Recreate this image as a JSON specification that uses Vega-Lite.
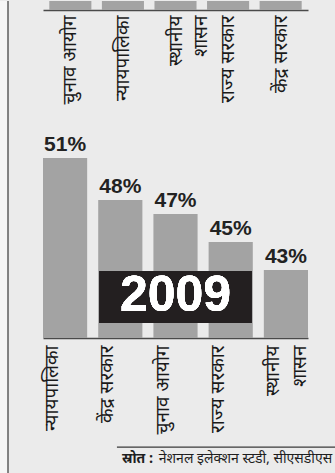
{
  "$schema": "https://vega.github.io/schema/vega-lite/v6.json",
  "padding": 0,
  "background": "#ebebeb",
  "config": {"view": {"stroke": null}},
  "spacing": 33,
  "hconcat": [
    {
      "width": 8,
      "height": 473,
      "view": {"fill": "#f6f6f6", "stroke": null},
      "data": {"values": [{}]},
      "mark": {"type": "rule", "color": "#5e5e5e", "strokeWidth": 1.5},
      "encoding": {
        "x": {"datum": 1, "type": "quantitative", "scale": {"domain": [0, 1]}, "axis": null}
      }
    },
    {
      "spacing": 0,
      "vconcat": [
        {
          "width": 265,
          "height": 9,
          "data": {"values": [
            {"संस्था": "चुनाव आयोग", "प्रतिशत": 0.55},
            {"संस्था": "न्यायपालिका", "प्रतिशत": 0.53},
            {"संस्था": "स्थानीय|शासन", "प्रतिशत": 0.51},
            {"संस्था": "राज्य सरकार", "प्रतिशत": 0.49},
            {"संस्था": "केंद्र सरकार", "प्रतिशत": 0.47}
          ]},
          "mark": {"type": "bar", "color": "#a3a3a3", "clip": true},
          "encoding": {
            "x": {
              "field": "संस्था", "type": "nominal", "sort": null,
              "scale": {"paddingInner": 0.2, "paddingOuter": 0.12},
              "axis": {
                "title": null, "ticks": false, "domainColor": "#4a4a4a", "domainWidth": 1.5,
                "labelAngle": 270, "labelFont": "Noto Sans Devanagari, Noto Sans, sans-serif",
                "labelFontSize": 19, "labelColor": "#1a1a1a", "labelPadding": 5,
                "labelLineHeight": 25, "labelExpr": "split(datum.label, '|')",
                "minExtent": 104, "maxExtent": 104
              }
            },
            "y": {"field": "प्रतिशत", "type": "quantitative", "scale": {"domain": [0.3815, 0.3879], "zero": false, "nice": false}, "axis": null}
          }
        },
        {
          "width": 265,
          "height": 224,
          "data": {"values": [
            {"संस्था": "न्यायपालिका", "प्रतिशत": 0.51},
            {"संस्था": "केंद्र सरकार", "प्रतिशत": 0.48},
            {"संस्था": "चुनाव आयोग", "प्रतिशत": 0.47},
            {"संस्था": "राज्य सरकार", "प्रतिशत": 0.45},
            {"संस्था": "स्थानीय|शासन", "प्रतिशत": 0.43}
          ]},
          "encoding": {
            "x": {
              "field": "संस्था", "type": "nominal", "sort": null,
              "scale": {"paddingInner": 0.2, "paddingOuter": 0},
              "axis": {
                "title": null, "ticks": false, "domainColor": "#4a4a4a", "domainWidth": 1.5,
                "labelAngle": 270, "labelBaseline": "top", "labelAlign": "right", "labelOffset": -22,
                "labelFont": "Noto Sans Devanagari, Noto Sans, sans-serif",
                "labelFontSize": 19, "labelColor": "#1a1a1a", "labelPadding": 7,
                "labelLineHeight": 27, "labelExpr": "split(datum.label, '|')",
                "minExtent": 108, "maxExtent": 108
              }
            }
          },
          "layer": [
            {
              "mark": {"type": "bar", "color": "#a3a3a3", "clip": true},
              "encoding": {
                "y": {"field": "प्रतिशत", "type": "quantitative", "scale": {"domain": [0.3815, 0.5415], "zero": false, "nice": false}, "axis": null},
                "y2": {"datum": 0.3815}
              }
            },
            {
              "mark": {"type": "text", "baseline": "alphabetic", "dy": -7, "font": "Liberation Sans Narrow, Liberation Sans, Arial, sans-serif", "fontWeight": "bold", "fontSize": 21, "color": "#222222"},
              "encoding": {
                "y": {"field": "प्रतिशत", "type": "quantitative"},
                "text": {"field": "प्रतिशत", "type": "quantitative", "format": ".0%"}
              }
            },
            {
              "mark": {"type": "bar", "color": "#231f20", "width": 152},
              "encoding": {
                "x": {"datum": "चुनाव आयोग", "type": "nominal"},
                "y": {"datum": 0.4294, "type": "quantitative"},
                "y2": {"datum": 0.3922}
              }
            },
            {
              "mark": {"type": "text", "text": "2009", "font": "Liberation Sans, Arial, sans-serif", "fontWeight": "bold", "fontSize": 50, "color": "#ffffff", "baseline": "middle"},
              "encoding": {
                "x": {"datum": "चुनाव आयोग", "type": "nominal"},
                "y": {"datum": 0.4115, "type": "quantitative"}
              }
            }
          ]
        },
        {
          "width": 265,
          "height": 28,
          "data": {"values": [{}]},
          "layer": [
            {
              "mark": {"type": "rule", "color": "#3a3a3a", "strokeWidth": 1.3},
              "encoding": {
                "x": {"datum": 0.279, "type": "quantitative", "scale": {"domain": [0, 1]}, "axis": null},
                "x2": {"datum": 1.12},
                "y": {"datum": 0.96, "type": "quantitative", "scale": {"domain": [0, 1]}, "axis": null}
              }
            },
            {
              "mark": {"type": "text", "text": "स्रोत :", "align": "left", "baseline": "middle", "font": "Noto Sans Devanagari, Noto Sans, sans-serif", "fontWeight": "bold", "fontSize": 14, "color": "#1e1e1e"},
              "encoding": {
                "x": {"datum": 0.298, "type": "quantitative"},
                "y": {"datum": 0.52, "type": "quantitative"}
              }
            },
            {
              "mark": {"type": "text", "text": "नेशनल  इलेक्शन स्टडी, सीएसडीएस", "align": "right", "baseline": "middle", "font": "Noto Sans Devanagari, Noto Sans, sans-serif", "fontSize": 14, "color": "#1e1e1e"},
              "encoding": {
                "x": {"datum": 1.091, "type": "quantitative"},
                "y": {"datum": 0.52, "type": "quantitative"}
              }
            }
          ]
        }
      ]
    }
  ]
}
